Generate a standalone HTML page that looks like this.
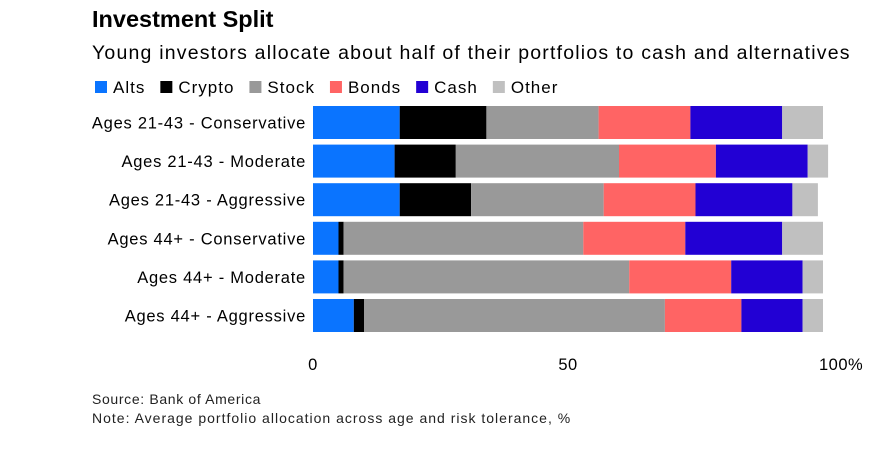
<!DOCTYPE html>
<html><head><meta charset="utf-8"><style>
body{margin:0;background:#fff;font-family:"Liberation Sans",Arial,sans-serif;}
#wrap{position:relative;width:887px;height:451px;overflow:hidden}
.t{position:absolute;white-space:nowrap;color:#000}
</style></head><body>
<div id="wrap">
<div class="t" style="left:92px;top:6px;font-size:23.5px;font-weight:bold">Investment Split</div>
<div class="t" style="left:92px;top:42px;font-size:19.5px;letter-spacing:1.2px">Young investors allocate about half of their portfolios to cash and alternatives</div>
<svg id="svg" width="887" height="451" style="position:absolute;left:0;top:0"></svg>
<div class="t" style="left:92px;top:391px;font-size:14px;color:#222;letter-spacing:0.65px">Source: Bank of America</div>
<div class="t" style="left:92px;top:410px;font-size:14px;color:#222;letter-spacing:1px">Note: Average portfolio allocation across age and risk tolerance, %</div>
</div>
<script>
const categories=["Ages 21-43 - Conservative","Ages 21-43 - Moderate","Ages 21-43 - Aggressive","Ages 44+ - Conservative","Ages 44+ - Moderate","Ages 44+ - Aggressive"];
const seriesNames=["Alts","Crypto","Stock","Bonds","Cash","Other"];
const seriesColors=["#0a74ff","#000000","#999999","#ff6464","#2200d4","#c0c0c0"];
const alts=[17,16,17,5,5,8];
const crypto=[17,12,14,1,1,2];
const stock=[22,32,26,47,56,59];
const bonds=[18,19,18,20,20,15];
const cash=[18,18,19,19,14,12];
const other=[8,4,5,8,4,4];
const tickValues=[0,50,100];
const tickLabels=["0","50","100%"];
const series=[alts,crypto,stock,bonds,cash,other];
const NS="http://www.w3.org/2000/svg";
const svg=document.getElementById('svg');
const x0=313,x1=823;
function xs(v){return x0+(x1-x0)*v/100;}
function ys(i){return 106+i*38.6;}
const bh=33;
function mk(tag,attrs){const e=document.createElementNS(NS,tag);for(const k in attrs)e.setAttribute(k,attrs[k]);svg.appendChild(e);return e;}
let lx=95;
seriesNames.forEach((n,i)=>{
  const r=mk('rect',{x:lx,y:81,width:12,height:12,fill:seriesColors[i]});
  
  
  const t=mk('text',{x:lx+18,y:93,'font-size':17,fill:'#000','letter-spacing':'1px'});
  t.textContent=n;
  
  
  lx+=18+t.getComputedTextLength()+15;
});
categories.forEach((c,i)=>{
  const y=ys(i);
  const t=mk('text',{x:306,y:y+bh/2+6,'font-size':16.5,'text-anchor':'end',fill:'#000','letter-spacing':'0.75px'});
  t.textContent=c;
  
  
  let acc=0;
  series.forEach((s,j)=>{
    const r=mk('rect',{x:xs(acc),y:y,width:xs(acc+s[i])-xs(acc),height:bh,fill:seriesColors[j]});
    
    
    acc+=s[i];
  });
});
tickValues.forEach((v,i)=>{
  const t=mk('text',{x:i==2?xs(v)-4:xs(v),y:370,'font-size':16.5,'text-anchor':i==2?'start':'middle',fill:'#000','letter-spacing':'0.5px'});
  t.textContent=tickLabels[i];
  
  
});
</script>
</body></html>
